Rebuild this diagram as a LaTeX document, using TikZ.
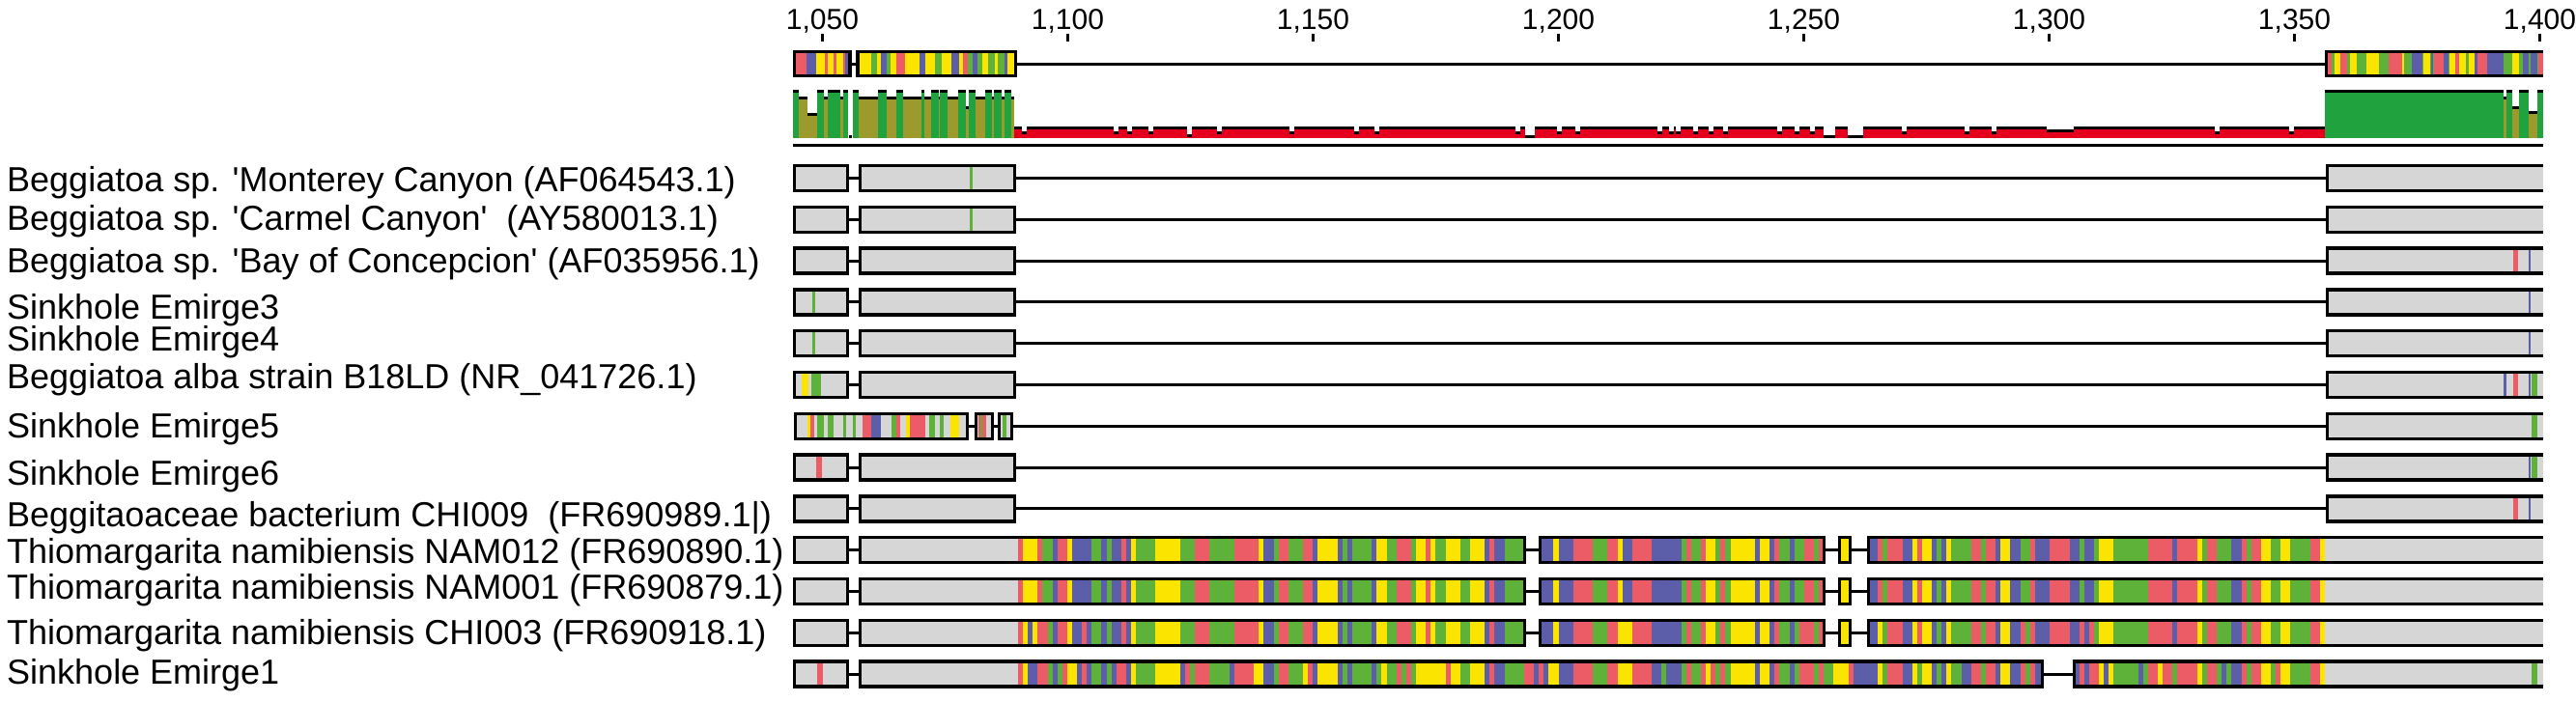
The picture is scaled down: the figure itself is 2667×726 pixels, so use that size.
\documentclass[tikz,border=0pt]{standalone}
\usepackage{fontspec}
\setmainfont{Liberation Sans}
\definecolor{sgray}{RGB}{214,214,214}
\definecolor{nA}{RGB}{236,92,102}
\definecolor{nT}{RGB}{94,178,58}
\definecolor{nC}{RGB}{92,94,170}
\definecolor{nG}{RGB}{250,228,0}
\definecolor{idg}{RGB}{32,162,62}
\definecolor{ido}{RGB}{156,154,44}
\definecolor{idr}{RGB}{228,0,28}
\def\hh{26}
\newcommand{\st}[3]{\fill[#3] (#1,0) rectangle (#2,\hh);}
\newcommand{\gb}[2]{\fill[sgray] (#1,0) rectangle (#2,\hh);}
\newcommand{\ob}[2]{\draw[bx] (#1,0) rectangle (#2,\hh);}
\newcommand{\obr}[1]{\draw[bx] (2633,0) -- (#1,0) -- (#1,\hh) -- (2633,\hh);}
\newcommand{\cnx}[2]{\draw[cn] (#1,\hh/2) -- (#2,\hh/2);}
\newcommand{\idb}[4]{\fill[black] (#1,#3) rectangle (#2,#3+3); \fill[#4] (#1,#3+3) rectangle (#2,143);}
\newcommand{\ntch}[2][136]{\fill[white] (#2-2.5,129) rectangle (#2+2.5,#1); \fill[black] (#2-2.5,#1) rectangle (#2+2.5,#1+3);}
\newcommand{\idgap}[2]{\fill[white] (#1,129) rectangle (#2,140); \fill[black] (#1,140) rectangle (#2,143);}
\newcommand{\stdrow}[2]{%
\begin{scope}[shift={(0,#1+1.5)}]
\gb{822.5}{877.5}\gb{890.5}{1050.5}\gb{2409.5}{2633}
#2
\ob{822.5}{877.5}\ob{890.5}{1050.5}
\cnx{877.5}{890.5}\cnx{1050.5}{2409.5}
\obr{2409.5}
\end{scope}}
\newcommand{\seqstripes}[1]{%
\foreach \k in {0,...,265}{%
  \pgfmathsetmacro\xa{1054+\k*5.0865}%
  \edef\cc{\csname #1\k\endcsname}%
  \fill[fill=\cc] (\xa,0) rectangle (\xa+5.15,\hh);}}
\begin{document}
\begin{tikzpicture}[x=1pt,y=-1pt,
  bx/.style={line width=3.5pt,line join=miter},
  cn/.style={line width=3pt},
  tickmark/.style={line width=3pt},
  lbl/.style={anchor=base west,inner sep=0pt,font=\fontsize{36}{40}\selectfont},
  tkl/.style={anchor=base,inner sep=0pt,font=\fontsize{30}{34}\selectfont}]
\useasboundingbox (0,0) rectangle (2667,726);

% pseudo-random sequence for the Thiomargarita-like rows
\pgfmathsetseed{20231}
\gdef\lastca{nA}
\foreach \k in {0,...,265}{%
  \pgfmathrandominteger{\rxa}{1}{10}%
  \pgfmathrandominteger{\rxb}{1}{4}%
  \pgfmathrandominteger{\rxm}{1}{100}%
  \pgfmathrandominteger{\rxr}{1}{100}%
  \ifcase\rxa\or\def\ca{nA}\or\def\ca{nA}\or\def\ca{nA}\or\def\ca{nT}\or\def\ca{nT}\or\def\ca{nT}\or\def\ca{nG}\or\def\ca{nG}\or\def\ca{nC}\or\def\ca{nC}\fi
  \ifnum\rxr<38 \edef\ca{\lastca}\fi
  \xdef\lastca{\ca}%
  \ifcase\rxb\or\def\cb{nA}\or\def\cb{nT}\or\def\cb{nG}\or\def\cb{nC}\fi
  \expandafter\xdef\csname sqa\k\endcsname{\ca}%
  \ifnum\rxm<5 \expandafter\xdef\csname sqb\k\endcsname{\cb}\else\expandafter\xdef\csname sqb\k\endcsname{\ca}\fi
  \ifnum\rxm<22 \expandafter\xdef\csname sqc\k\endcsname{\cb}\else\expandafter\xdef\csname sqc\k\endcsname{\ca}\fi
}

% ruler
\node[tkl] (t1050) at (851.5,30) {1,050};
\node[tkl] (t1100) at (1105.5,30) {1,100};
\node[tkl] (t1150) at (1359.5,30) {1,150};
\node[tkl] (t1200) at (1613.5,30) {1,200};
\node[tkl] (t1250) at (1867.5,30) {1,250};
\node[tkl] (t1300) at (2121.5,30) {1,300};
\node[tkl] (t1350) at (2375.5,30) {1,350};
\node[tkl] (t1400) at (2629.5,30) {1,400};
\foreach \t in {t1050,t1100,t1150,t1200,t1250,t1300,t1350,t1400}
  \draw[tickmark] (\t.base) ++(0,5) -- ++(0,8);

% consensus
\begin{scope}[shift={(0,53.5)}]
\def\hh{25}
\st{822.5}{880}{nG}
\st{822.5}{835}{nA}\st{835}{845}{nC}\st{845}{854}{nG}\st{854}{857}{nA}\st{857}{863}{nG}\st{863}{866}{nA}\st{866}{873}{nG}\st{873}{875}{nA}\st{875}{880}{nC}
\st{888}{1051.5}{nG}
\st{902}{908}{nT}\st{912}{918}{nC}\st{918}{922}{nT}\st{928}{937}{nA}\st{952}{958}{nC}\st{968}{975}{nT}\st{985}{993}{nC}\st{997}{1002}{nA}\st{1002}{1007}{nT}\st{1007}{1012}{nC}\st{1012}{1017}{nT}\st{1023}{1030}{nT}\st{1033}{1040}{nT}\st{1040}{1043}{nC}
\st{2408.5}{2633}{nT}
\st{2410}{2414}{nA}\st{2417}{2423}{nG}\st{2423}{2430}{nA}\st{2433}{2440}{nG}\st{2450}{2463}{nG}\st{2473}{2487}{nA}\st{2487}{2489}{nG}\st{2497}{2508}{nC}\st{2509}{2516}{nG}\st{2517}{2519}{nC}\st{2520}{2530}{nA}\st{2530}{2535}{nC}\st{2536}{2542}{nG}\st{2542}{2546}{nA}\st{2546}{2553}{nG}\st{2556}{2562}{nG}\st{2562}{2565}{nC}\st{2565}{2575}{nA}\st{2575}{2592}{nC}\st{2601}{2608}{nG}\st{2612}{2618}{nC}\st{2620}{2627}{nC}\st{2628}{2633}{nA}
\ob{822.5}{880}\ob{888}{1051.5}
\cnx{880}{888}\cnx{1051.5}{2408.5}
\obr{2408.5}
\end{scope}

% identity graph
\idb{821}{827}{93}{idg}\idb{827}{836}{100}{ido}\idb{836}{846}{117}{ido}\idb{846}{853}{93}{idg}
\idb{853}{857}{100}{ido}\idb{857}{870}{93}{idg}\idb{870}{873}{100}{ido}\idb{873}{878}{93}{idg}
\fill[black] (879,140) rectangle (882,143);
\idb{883}{889}{93}{idg}\idb{889}{909}{100}{ido}\idb{909}{918}{93}{idg}\idb{918}{928}{100}{ido}
\idb{928}{935}{93}{idg}\idb{935}{954}{100}{ido}\idb{954}{957}{93}{idg}\idb{957}{964}{100}{ido}
\idb{964}{972}{93}{idg}\idb{972}{973}{100}{ido}\idb{973}{981}{93}{idg}\idb{981}{992}{100}{ido}
\idb{992}{1000}{93}{idg}\idb{1000}{1003}{110}{ido}\idb{1003}{1010}{93}{idg}\idb{1010}{1020}{100}{ido}
\idb{1020}{1027}{93}{idg}\idb{1027}{1029}{100}{ido}\idb{1029}{1037}{93}{idg}\idb{1037}{1040}{100}{ido}
\idb{1040}{1047}{93}{idg}\idb{1047}{1050}{100}{ido}
\idb{1050}{2407}{131}{idr}
\foreach \x in {1060,1155,1169,1191,1262,1337,1404,1425,1571,1614,1633,1718,1730,1737,1755,1771,1786,1842,1860,1876,1971,2036,2064,2295,2372}
  \ntch{\x};
\ntch[139]{1231}
\idgap{1579}{1589}\idgap{1888}{1900}\idgap{1913}{1929}
\fill[white] (2119,129) rectangle (2147,134); \fill[black] (2119,134) rectangle (2147,137);
\idb{2407}{2592}{93}{idg}\idb{2592}{2595}{100}{ido}\idb{2595}{2601}{93}{idg}\idb{2601}{2608}{110}{ido}
\idb{2608}{2618}{93}{idg}\idb{2618}{2627}{115}{ido}\idb{2627}{2633}{93}{idg}
\draw[line width=3.5pt] (821,150.5) -- (2633,150.5);

% rows
\stdrow{170}{\st{1004}{1006.5}{nT}}
\stdrow{212.8}{\st{1004}{1006.5}{nT}}
\stdrow{255.6}{\st{2602}{2607}{nA}\st{2617.5}{2620}{nC}}
\stdrow{298.4}{\st{841}{844}{nT}\st{2617.5}{2620}{nC}}
\stdrow{341.2}{\st{841}{844}{nT}\st{2617.5}{2620}{nC}}
\stdrow{384}{\st{830}{837}{nG}\st{840}{850}{nT}\st{2592}{2594.5}{nC}\st{2602}{2607}{nA}\st{2617.5}{2620}{nC}\st{2621}{2627}{nT}}
% row 7 : Sinkhole Emirge5
\begin{scope}[shift={(0,428.3)}]
\gb{823.5}{1001.5}\gb{1010.5}{1027.5}\gb{1034.5}{1047.5}\gb{2409.5}{2633}
\st{836}{839}{nG}\st{839}{843}{nA}\st{846}{853}{nT}\st{857}{863}{nT}\st{873}{876}{nT}\st{883}{886}{nT}
\st{893}{902}{nA}\st{902}{912}{nC}\st{923}{928}{nT}\st{928}{932}{nA}\st{938}{942}{nG}\st{942}{958}{nA}
\st{962}{968}{nT}\st{973}{977}{nT}\st{984}{993}{nG}
\st{1013}{1021}{nA}\st{1015}{1017}{nT}\st{1038}{1042}{nT}
\st{2621}{2627}{nT}
\ob{823.5}{1001.5}\ob{1010.5}{1027.5}\ob{1034.5}{1047.5}
\cnx{1001.5}{1010.5}\cnx{1027.5}{1034.5}\cnx{1047.5}{2409.5}
\obr{2409.5}
\end{scope}
\stdrow{469.6}{\st{845}{851}{nA}\st{2617.5}{2620}{nC}\st{2621}{2627}{nT}}
\stdrow{512.4}{\st{2602}{2607}{nA}\st{2617.5}{2620}{nC}}

% rows 10-12 : Thiomargarita
\foreach \yy/\sq in {556.7/sqa,599.5/sqa,642.3/sqb}{
\begin{scope}[shift={(0,\yy)}]
\gb{822.5}{877.5}\gb{890.5}{2633}
\seqstripes{\sq}
\fill[white] (1578.5,-3) rectangle (1594.5,30);
\fill[white] (1888.5,-3) rectangle (1904.5,30);
\fill[white] (1915.5,-3) rectangle (1934.5,30);
\ob{822.5}{877.5}\ob{890.5}{1578.5}\ob{1594.5}{1888.5}\ob{1904.5}{1915.5}
\cnx{877.5}{890.5}\cnx{1578.5}{1594.5}\cnx{1888.5}{1904.5}\cnx{1915.5}{1934.5}
\obr{1934.5}
\end{scope}}

% row 13 : Sinkhole Emirge1
\begin{scope}[shift={(0,685.1)}]
\gb{822.5}{877.5}\gb{890.5}{2633}
\seqstripes{sqc}
\fill[white] (2114.5,-3) rectangle (2147.5,30);
\st{846}{852}{nA}\st{2621}{2627}{nT}
\ob{822.5}{877.5}\ob{890.5}{2114.5}
\cnx{877.5}{890.5}\cnx{2114.5}{2147.5}
\obr{2147.5}
\end{scope}

% labels
\node[lbl] (l1) at (7,198) {Beggiatoa sp. \textquotesingle{}Monterey Canyon (AF064543.1)};
\node[lbl] (l2) at (7,238) {Beggiatoa sp. \textquotesingle{}Carmel Canyon\textquotesingle{}~ (AY580013.1)};
\node[lbl] (l3) at (7,282) {Beggiatoa sp. \textquotesingle{}Bay of Concepcion\textquotesingle{} (AF035956.1)};
\node[lbl] (l4) at (7,330) {Sinkhole Emirge3};
\node[lbl] (l5) at (7,363) {Sinkhole Emirge4};
\node[lbl] (l6) at (7,402) {Beggiatoa alba strain B18LD (NR\_041726.1)};
\node[lbl] (l7) at (7,453) {Sinkhole Emirge5};
\node[lbl] (l8) at (7,502) {Sinkhole Emirge6};
\node[lbl] (l9) at (7,545) {Beggitaoaceae bacterium CHI009~ (FR690989.1|)};
\node[lbl] (l10) at (7,583) {Thiomargarita namibiensis NAM012 (FR690890.1)};
\node[lbl] (l11) at (7,620) {Thiomargarita namibiensis NAM001 (FR690879.1)};
\node[lbl] (l12) at (7,667) {Thiomargarita namibiensis CHI003 (FR690918.1)};
\node[lbl] (l13) at (7,708) {Sinkhole Emirge1};
\end{tikzpicture}
\end{document}
